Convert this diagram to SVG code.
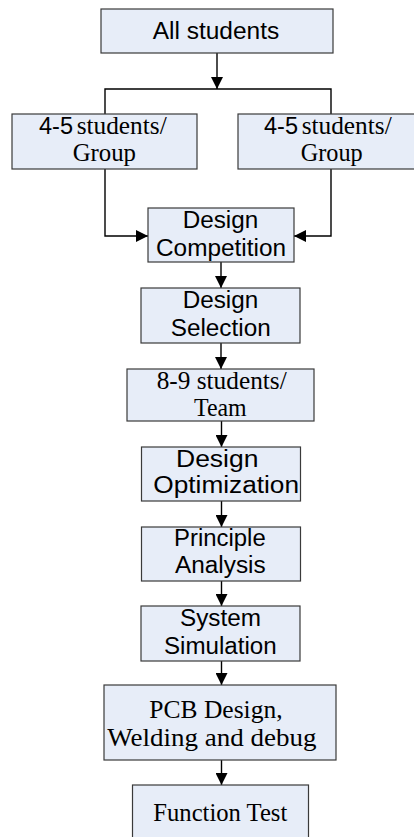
<svg xmlns="http://www.w3.org/2000/svg" width="414" height="837" viewBox="0 0 414 837">
<style>
.box{fill:#E7EDF8;stroke:#3a3a3a;stroke-width:1.2}
.a{font-family:"Liberation Sans",Arial,sans-serif;font-size:23px;fill:#000}
.t{font-family:"Liberation Serif","Times New Roman",serif;font-size:25px;fill:#000}
.c{fill:none;stroke:#000;stroke-width:1.4}
</style>
<defs>
<marker id="ah" markerUnits="userSpaceOnUse" markerWidth="12" markerHeight="12" viewBox="0 0 12 12" refX="12" refY="6" orient="auto">
<path d="M0,0 L12,6 L0,12 Z" fill="#000"/>
</marker>
</defs>
<rect x="0" y="0" width="414" height="837" fill="#fff"/>
<g id="connectors">
<line class="c" x1="217" y1="53" x2="217" y2="89" marker-end="url(#ah)"/>
<polyline class="c" points="105,114 105,89 331,89 331,114"/>
<polyline class="c" points="105,169 105,236 148,236" marker-end="url(#ah)"/>
<polyline class="c" points="331,169 331,236 294,236" marker-end="url(#ah)"/>
<line class="c" x1="221" y1="262" x2="221" y2="288" marker-end="url(#ah)"/>
<line class="c" x1="221" y1="343" x2="221" y2="369" marker-end="url(#ah)"/>
<line class="c" x1="221.5" y1="421" x2="221.5" y2="447" marker-end="url(#ah)"/>
<line class="c" x1="221.5" y1="501" x2="221.5" y2="527" marker-end="url(#ah)"/>
<line class="c" x1="221.5" y1="581" x2="221.5" y2="606" marker-end="url(#ah)"/>
<line class="c" x1="221.5" y1="661" x2="221.5" y2="685" marker-end="url(#ah)"/>
<line class="c" x1="221.5" y1="760" x2="221.5" y2="785" marker-end="url(#ah)"/>
</g>
<g id="all">
<rect class="box" x="101" y="9" width="232" height="44"/>
<text class="a" x="152.7" y="39" textLength="126.6" lengthAdjust="spacingAndGlyphs">All students</text>
</g>
<g id="group1">
<rect class="box" x="12" y="114" width="185" height="55"/>
<text class="a" x="39" y="134" textLength="34" lengthAdjust="spacingAndGlyphs">4-5</text>
<text class="t" x="76.7" y="134" textLength="90" lengthAdjust="spacingAndGlyphs">students/</text>
<text class="t" x="72.7" y="161" textLength="63.3" lengthAdjust="spacingAndGlyphs">Group</text>
</g>
<g id="group2">
<rect class="box" x="238" y="114" width="180" height="55"/>
<text class="a" x="264" y="134" textLength="34" lengthAdjust="spacingAndGlyphs">4-5</text>
<text class="t" x="301.7" y="134" textLength="90" lengthAdjust="spacingAndGlyphs">students/</text>
<text class="t" x="300.7" y="161" textLength="62" lengthAdjust="spacingAndGlyphs">Group</text>
</g>
<g id="competition">
<rect class="box" x="148" y="208" width="146" height="54"/>
<text class="a" x="182.7" y="228" textLength="75.6" lengthAdjust="spacingAndGlyphs">Design</text>
<text class="a" x="156" y="256" textLength="130" lengthAdjust="spacingAndGlyphs">Competition</text>
</g>
<g id="selection">
<rect class="box" x="141" y="288" width="159" height="55"/>
<text class="a" x="182.7" y="308" textLength="75.6" lengthAdjust="spacingAndGlyphs">Design</text>
<text class="a" x="170.7" y="336" textLength="100" lengthAdjust="spacingAndGlyphs">Selection</text>
</g>
<g id="team">
<rect class="box" x="127" y="369" width="187" height="52"/>
<text class="t" x="156.7" y="389" textLength="130" lengthAdjust="spacingAndGlyphs">8-9 students/</text>
<text class="t" x="194" y="416" textLength="52.7" lengthAdjust="spacingAndGlyphs">Team</text>
</g>
<g id="optimization">
<rect class="box" x="141.5" y="447" width="159" height="54"/>
<text class="a" x="176" y="466.5" textLength="82.5" lengthAdjust="spacingAndGlyphs">Design</text>
<text class="a" x="153.3" y="493" textLength="145.7" lengthAdjust="spacingAndGlyphs">Optimization</text>
</g>
<g id="principle">
<rect class="box" x="141.5" y="527" width="159" height="54"/>
<text class="a" x="174" y="545.5" textLength="91.7" lengthAdjust="spacingAndGlyphs">Principle</text>
<text class="a" x="175" y="573" textLength="90.7" lengthAdjust="spacingAndGlyphs">Analysis</text>
</g>
<g id="simulation">
<rect class="box" x="141" y="606" width="159" height="55"/>
<text class="a" x="180" y="625.5" textLength="81" lengthAdjust="spacingAndGlyphs">System</text>
<text class="a" x="164" y="654" textLength="112.7" lengthAdjust="spacingAndGlyphs">Simulation</text>
</g>
<g id="pcb">
<rect class="box" x="104" y="685" width="232" height="75"/>
<text class="t" x="149.3" y="718" textLength="133.3" lengthAdjust="spacingAndGlyphs">PCB Design,</text>
<text class="t" x="107.3" y="746" textLength="209.3" lengthAdjust="spacingAndGlyphs">Welding and debug</text>
</g>
<g id="function">
<rect class="box" x="132.5" y="785" width="176" height="60"/>
<text class="t" x="153.3" y="820.7" textLength="134" lengthAdjust="spacingAndGlyphs">Function Test</text>
</g>
</svg>
